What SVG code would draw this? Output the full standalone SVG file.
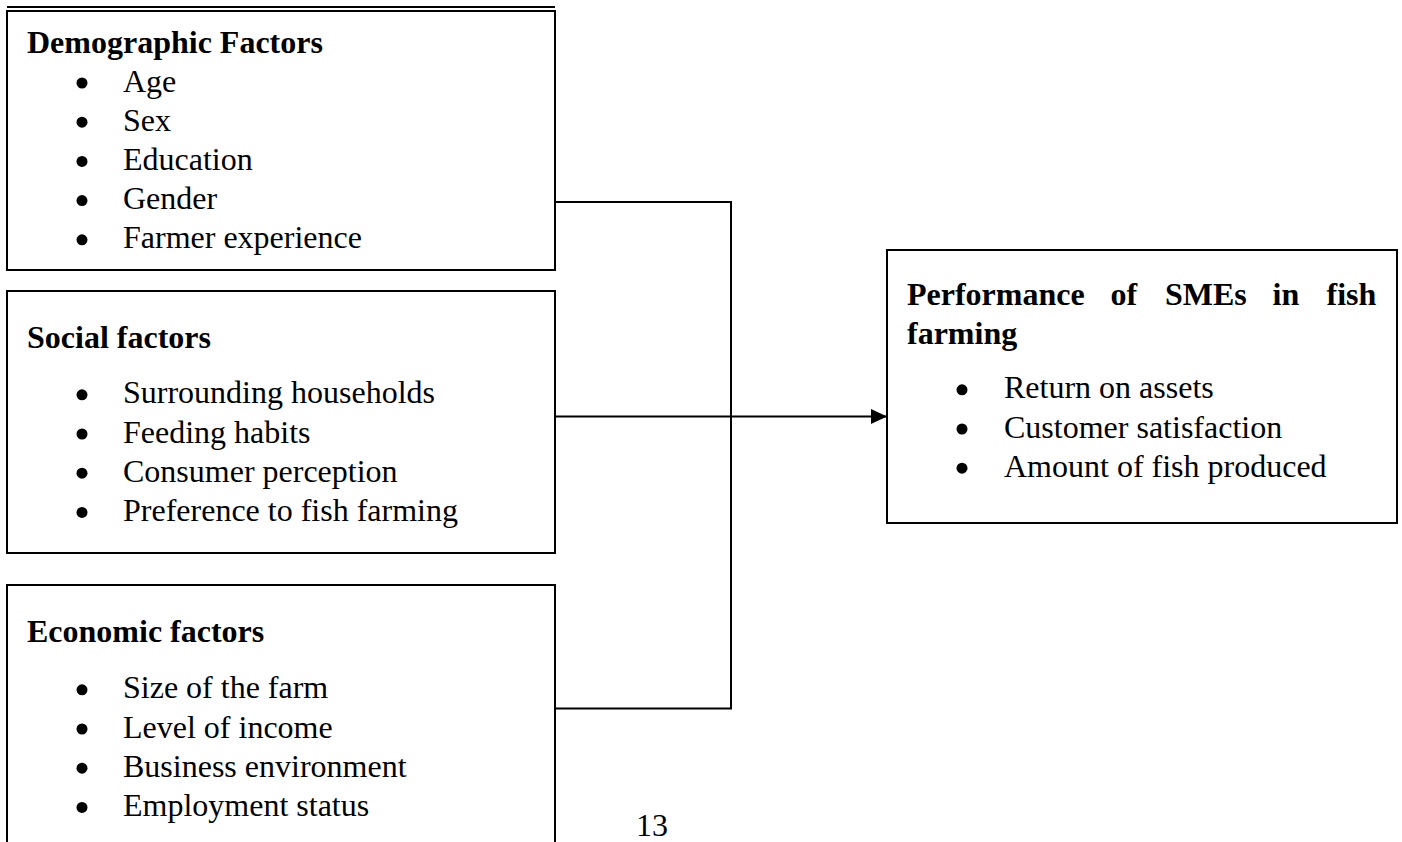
<svg xmlns="http://www.w3.org/2000/svg" width="1402" height="842" viewBox="0 0 1402 842">
<style>
.box{fill:#fff;stroke:#000;stroke-width:2}
.ln{fill:none;stroke:#000;stroke-width:2}
text{font-family:"Liberation Serif","Times New Roman",serif;font-size:32px;fill:#000}
.h{font-weight:bold}
.b{fill:#000}
</style>
<defs>
<marker id="arr" markerWidth="16" markerHeight="16" refX="16" refY="7.5" orient="auto" markerUnits="userSpaceOnUse">
<path d="M0,0 L16,7.5 L0,15 Z" fill="#000"/>
</marker>
</defs>
<rect width="1402" height="842" fill="#fff"/>
<g id="connectors">
<polyline class="ln" points="555,202 731,202 731,708"/>
<polyline class="ln" points="555,708.5 732,708.5"/>
<line class="ln" x1="555" y1="416.5" x2="887" y2="416.5" marker-end="url(#arr)"/>
</g>
<g id="demographic">
<line class="ln" x1="7" y1="7" x2="555" y2="7"/>
<rect class="box" x="7" y="11" width="548" height="259"/>
<text class="h" x="27" y="52.5">Demographic Factors</text>
<circle class="b" cx="82" cy="83" r="5.5"/><text x="123" y="91.5">Age</text>
<circle class="b" cx="82" cy="122.2" r="5.5"/><text x="123" y="130.7">Sex</text>
<circle class="b" cx="82" cy="161.4" r="5.5"/><text x="123" y="169.9">Education</text>
<circle class="b" cx="82" cy="200.6" r="5.5"/><text x="123" y="209.1">Gender</text>
<circle class="b" cx="82" cy="239.8" r="5.5"/><text x="123" y="248.3">Farmer experience</text>
</g>
<g id="social">
<rect class="box" x="7" y="291" width="548" height="262"/>
<text class="h" x="27" y="347.7">Social factors</text>
<circle class="b" cx="82" cy="394.8" r="5.5"/><text x="123" y="403.3">Surrounding households</text>
<circle class="b" cx="82" cy="434" r="5.5"/><text x="123" y="442.5">Feeding habits</text>
<circle class="b" cx="82" cy="473.2" r="5.5"/><text x="123" y="481.7">Consumer perception</text>
<circle class="b" cx="82" cy="512.4" r="5.5"/><text x="123" y="520.9">Preference to fish farming</text>
</g>
<g id="economic">
<rect class="box" x="7" y="585" width="548" height="270"/>
<text class="h" x="27" y="641.7">Economic factors</text>
<circle class="b" cx="82" cy="689.8" r="5.5"/><text x="123" y="698.3">Size of the farm</text>
<circle class="b" cx="82" cy="729" r="5.5"/><text x="123" y="737.5">Level of income</text>
<circle class="b" cx="82" cy="768.2" r="5.5"/><text x="123" y="776.7">Business environment</text>
<circle class="b" cx="82" cy="807.4" r="5.5"/><text x="123" y="815.9">Employment status</text>
</g>
<g id="performance">
<rect class="box" x="887" y="250" width="510" height="273"/>
<text class="h" y="305"><tspan x="907">Performance</tspan><tspan x="1110.5">of</tspan><tspan x="1165">SMEs</tspan><tspan x="1272.5">in</tspan><tspan x="1326.5">fish</tspan></text>
<text class="h" x="907" y="343.5">farming</text>
<circle class="b" cx="962" cy="389.8" r="5.5"/><text x="1004" y="398.3">Return on assets</text>
<circle class="b" cx="962" cy="429" r="5.5"/><text x="1004" y="437.5">Customer satisfaction</text>
<circle class="b" cx="962" cy="468.2" r="5.5"/><text x="1004" y="476.7">Amount of fish produced</text>
</g>
<text x="652" y="836" text-anchor="middle">13</text>
</svg>
